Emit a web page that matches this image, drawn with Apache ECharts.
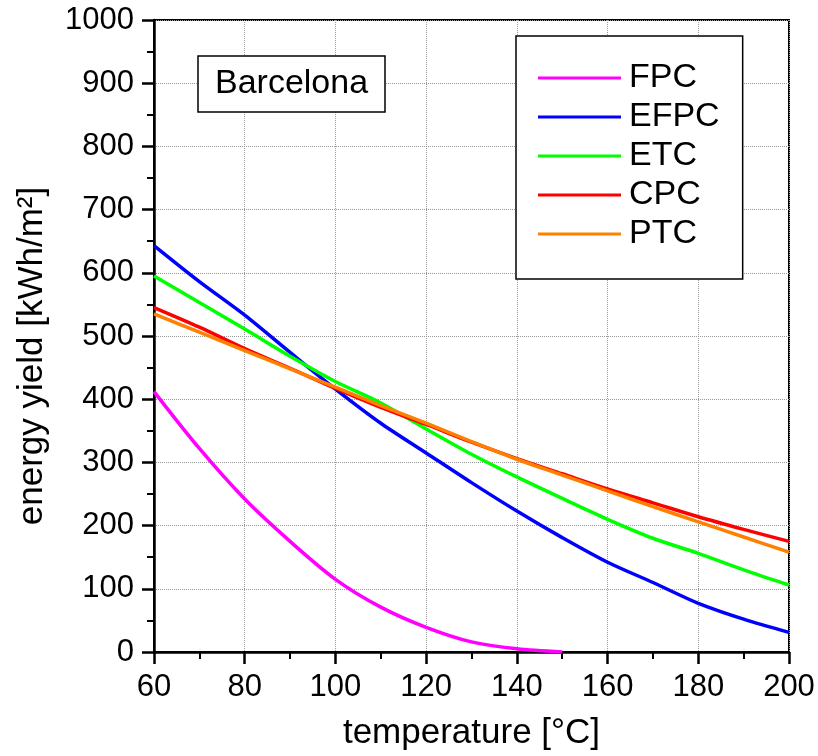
<!DOCTYPE html>
<html>
<head>
<meta charset="utf-8">
<script src="https://cdn.jsdelivr.net/npm/echarts@6/dist/echarts.min.js"></script>
<style>
  html, body { margin: 0; padding: 0; background: #fff; }
  #chart { width: 818px; height: 756px; }
</style>
</head>
<body>
<div id="chart"></div>
<script>
// temperatures on the x axis
var temps = [60, 70, 80, 90, 100, 110, 120, 130, 140, 150, 160, 170, 180, 190, 200];
// energy yield values [kWh/m2]
var fpc  = [412, 322, 242, 175, 115, 71, 39, 16, 5, 0];
var efpc = [643, 586, 533, 474, 416, 362, 315, 268, 223, 181, 142, 110, 77, 52, 31];
var etc  = [595, 553, 511, 468, 428, 394, 353, 313, 277, 243, 210, 180, 156, 130, 106];
var cpc  = [545, 514, 480, 449, 417, 387, 360, 332, 306, 282, 258, 236, 214, 194, 175];
var ptc  = [535, 506, 477, 448, 419, 390, 362, 333, 305, 280, 255, 230, 206, 182, 158];
var names = ['FPC', 'EFPC', 'ETC', 'CPC', 'PTC'];
var colors = ['#ff00ff', '#0000ff', '#00ff00', '#ff0000', '#ff8000'];

var FONT = "'Liberation Sans', Arial, sans-serif";

function pairs(vals){
    var out = [];
    for(var i = 0; i < vals.length; i++){
        out.push([temps[i], vals[i]]);
    }
    return out;
}

var allVals = [fpc, efpc, etc, cpc, ptc];
var series = [];
for(var s = 0; s < names.length; s++){
    series.push({
        name: names[s],
        type: 'line',
        data: pairs(allVals[s]),
        smooth: 0.3,
        showSymbol: false,
        symbol: 'none',
        lineStyle: { color: colors[s], width: 3.5 },
        itemStyle: { color: colors[s] }
    });
}

var chart = echarts.init(document.getElementById('chart'));
var option = {
    animation: false,
    backgroundColor: '#fff',
    title: {
        text: 'Barcelona',
        left: 198,
        top: 56,
        padding: [11, 17, 11, 17],
        borderColor: '#000',
        borderWidth: 1.5,
        backgroundColor: '#fff',
        textStyle: { fontFamily: FONT, fontSize: 34, fontWeight: 'normal', color: '#000' }
    },
    legend: {
        orient: 'vertical',
        left: 516,
        top: 36,
        padding: [25, 23, 28, 22],
        borderColor: '#000',
        borderWidth: 1.5,
        backgroundColor: '#fff',
        icon: 'rect',
        itemWidth: 83,
        itemHeight: 3,
        itemGap: 5,
        textStyle: { fontFamily: FONT, fontSize: 34, color: '#000', padding: [0, 0, 0, 3] },
        data: names
    },
    grid: {
        left: 154,
        right: 29,
        top: 20,
        bottom: 103,
        show: true,
        borderColor: '#000',
        borderWidth: 2
    },
    xAxis: {
        type: 'value',
        min: 60,
        max: 200,
        interval: 20,
        name: 'temperature [°C]',
        nameLocation: 'middle',
        nameGap: 64,
        nameTextStyle: { fontFamily: FONT, fontSize: 35, color: '#000' },
        axisLine: { lineStyle: { color: '#000', width: 2.5 } },
        axisTick: { inside: false, length: 12, lineStyle: { color: '#000', width: 2.5 } },
        minorTick: { show: true, splitNumber: 2, length: 7, lineStyle: { color: '#000', width: 2 } },
        axisLabel: { fontFamily: FONT, fontSize: 31, color: '#000', margin: 20 },
        splitLine: { show: true, lineStyle: { color: '#999', type: 'dotted', width: 1 } }
    },
    yAxis: {
        type: 'value',
        min: 0,
        max: 1000,
        interval: 100,
        name: 'energy yield [kWh/m²]',
        nameLocation: 'middle',
        nameGap: 104,
        nameTextStyle: { fontFamily: FONT, fontSize: 35, color: '#000', padding: [0, 40, 0, 0] },
        axisLine: { show: true, lineStyle: { color: '#000', width: 2.5 } },
        axisTick: { show: true, inside: false, length: 12, lineStyle: { color: '#000', width: 2.5 } },
        minorTick: { show: true, splitNumber: 2, length: 7, lineStyle: { color: '#000', width: 2 } },
        axisLabel: {
            fontFamily: FONT, fontSize: 31, color: '#000', margin: 20,
            formatter: function(v){ return String(v); }
        },
        splitLine: { show: true, lineStyle: { color: '#999', type: 'dotted', width: 1 } }
    },
    series: series
};
chart.setOption(option);
</script>
</body>
</html>
